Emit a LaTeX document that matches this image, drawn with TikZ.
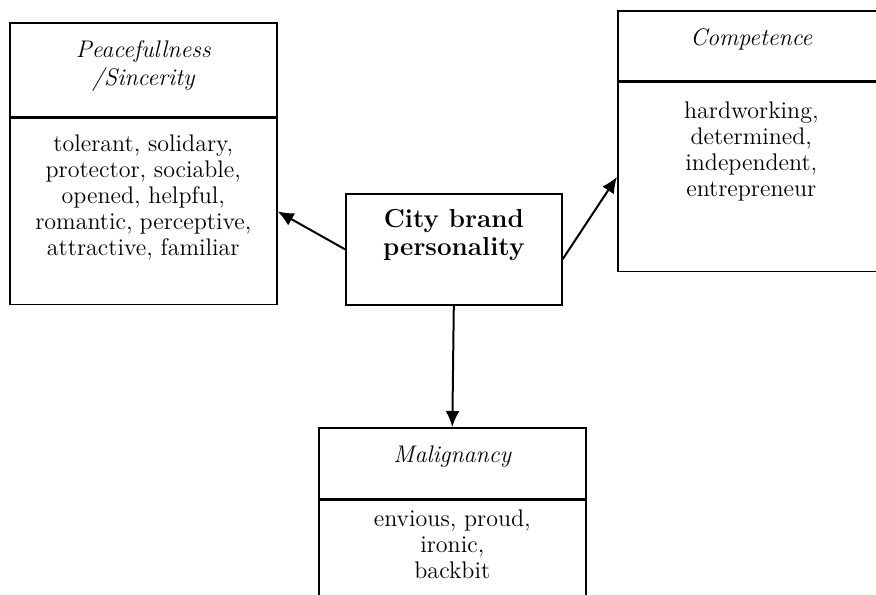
\documentclass[tikz,border=0pt]{standalone}
\usepackage{tikz}
\usetikzlibrary{arrows.meta,positioning}
\newcommand{\celltext}[3]{\parbox[c][#1][t]{108pt}{\centering\vspace*{#2}#3\par}}
\tikzset{
cell/.style={rectangle, draw, line width=0.8pt, inner sep=0pt, anchor=north west, minimum width=133.5pt, font=\fontsize{12}{13}\selectfont},
head/.style={cell, font=\fontsize{12}{14}\selectfont\itshape},
core/.style={cell, minimum width=108pt, font=\fontsize{13}{14}\selectfont\bfseries},
link/.style={-{Latex[length=8pt,width=7pt]}, line width=1pt}
}

\begin{document}
\begin{tikzpicture}[x=0.5pt, y=-0.5pt]
    \useasboundingbox (0,0) rectangle (876,594);
    \clip (0,0) rectangle (876,594);
    \node[head] (peacehead) at (9,22) {\celltext{47pt}{9pt}{Peacefullness\\/Sincerity}};
    \node[cell, below=0 of peacehead] (peace) {\celltext{93pt}{8pt}{tolerant, solidary,\\protector, sociable,\\opened, helpful,\\romantic, perceptive,\\attractive, familiar}};
    \node[head] (comphead) at (617,10) {\celltext{35pt}{9pt}{Competence}};
    \node[cell, below=0 of comphead] (comp) {\celltext{94.5pt}{9.5pt}{hardworking,\\determined,\\independent,\\entrepreneur}};
    \node[core] (brand) at (345,193) {\celltext{55.5pt}{8pt}{City brand\\personality}};
    \node[head] (malighead) at (318,427) {\celltext{35.5pt}{9pt}{Malignancy}};
    \node[cell, below=0 of malighead] (malig) {\celltext{71pt}{4.5pt}{envious, proud,\\ironic,\\backbit}};
    \draw[link] (brand.west) -- (peace.east);
    \draw[link] ([yshift=-5pt]brand.east) -- (comp.west);
    \draw[link] (brand.south) -- (malighead.north);
\end{tikzpicture}
\end{document}
